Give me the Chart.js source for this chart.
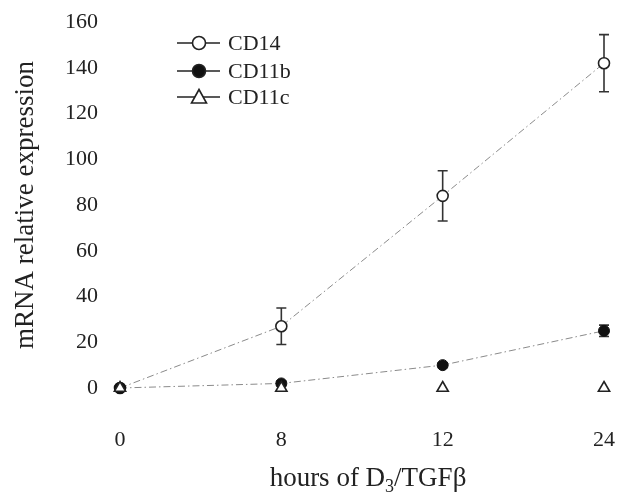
<!DOCTYPE html>
<html>
<head>
<meta charset="utf-8">
<script src="https://cdn.jsdelivr.net/npm/chart.js@4.4.0/dist/chart.umd.min.js"></script>
<style>
  html, body { margin: 0; padding: 0; background: #fff; }
  #wrap { width: 619px; height: 498px; }
</style>
</head>
<body>
<div id="wrap"><canvas id="chart" width="619" height="498"></canvas></div>
<script>
// data
const hours = ['0', '8', '12', '24'];
const cd14 = [0, 27, 84, 142];
const cd14Err = [0.8, 8, 11, 12.5];
const cd11b = [0, 2, 10, 25];
const cd11bErr = [0.5, 1, 1, 2.5];
const cd11c = [0, 0, 0, 0];
const yTicks = [0, 20, 40, 60, 80, 100, 120, 140, 160];

const serif = "'Liberation Serif', 'Times New Roman', serif";
const ink = '#222';

// error bars, drawn under the markers
const errorBars = {
  id: 'errorBars',
  beforeDatasetsDraw(chart) {
    const { ctx, scales: { x, y } } = chart;
    const sets = [[cd14, cd14Err], [cd11b, cd11bErr]];
    ctx.save();
    ctx.strokeStyle = '#333';
    ctx.lineWidth = 1.6;
    sets.forEach(([vals, errs]) => {
      vals.forEach((v, i) => {
        const px = x.getPixelForValue(i);
        const top = y.getPixelForValue(v + errs[i]);
        const bot = y.getPixelForValue(v - errs[i]);
        ctx.beginPath();
        ctx.moveTo(px, top); ctx.lineTo(px, bot);
        ctx.moveTo(px - 5, top); ctx.lineTo(px + 5, top);
        ctx.moveTo(px - 5, bot); ctx.lineTo(px + 5, bot);
        ctx.stroke();
      });
    });
    ctx.restore();
  }
};

// legend with a line through each marker, and x title with subscript
const extras = {
  id: 'extras',
  afterDraw(chart) {
    const { ctx, chartArea } = chart;
    ctx.save();
    const rows = [
      { label: 'CD14', y: 43, fill: '#fff', shape: 'circle' },
      { label: 'CD11b', y: 71, fill: '#111', shape: 'circle' },
      { label: 'CD11c', y: 97, fill: '#fff', shape: 'triangle' }
    ];
    rows.forEach(r => {
      ctx.strokeStyle = ink;
      ctx.lineWidth = 1.6;
      ctx.beginPath();
      ctx.moveTo(177, r.y); ctx.lineTo(220, r.y);
      ctx.stroke();
      ctx.beginPath();
      if (r.shape === 'circle') {
        ctx.arc(199, r.y, 6.5, 0, Math.PI * 2);
      } else {
        ctx.moveTo(199, r.y - 7.5);
        ctx.lineTo(206.5, r.y + 6);
        ctx.lineTo(191.5, r.y + 6);
        ctx.closePath();
      }
      ctx.fillStyle = r.fill;
      ctx.fill();
      ctx.stroke();
      ctx.fillStyle = ink;
      ctx.font = '22px ' + serif;
      ctx.textAlign = 'left';
      ctx.textBaseline = 'middle';
      ctx.fillText(r.label, 228, r.y + 1);
    });

    // x axis title: hours of D3/TGFβ
    const parts = [['hours of D', 27, 0], ['3', 18, 6], ['/TGFβ', 27, 0]];
    let w = 0;
    parts.forEach(p => { ctx.font = p[1] + 'px ' + serif; w += ctx.measureText(p[0]).width; });
    let tx = (chartArea.left + chartArea.right) / 2 + 6 - w / 2;
    const base = 486;
    ctx.textBaseline = 'alphabetic';
    parts.forEach(p => {
      ctx.font = p[1] + 'px ' + serif;
      ctx.fillText(p[0], tx, base + p[2]);
      tx += ctx.measureText(p[0]).width;
    });
    ctx.restore();
  }
};

const dashDot = [7, 3, 1.5, 3];

new Chart(document.getElementById('chart'), {
  type: 'line',
  data: {
    labels: hours,
    datasets: [
      {
        label: 'CD11c', data: cd11c, order: 0, showLine: false, clip: false,
        pointStyle: 'triangle', pointRadius: 6.5, pointBackgroundColor: '#fff',
        pointBorderColor: ink, pointBorderWidth: 1.6, borderColor: ink
      },
      {
        label: 'CD11b', data: cd11b, order: 1, clip: false,
        borderColor: '#8a8a8a', borderWidth: 1, borderDash: dashDot,
        pointStyle: 'circle', pointRadius: 5.5, pointBackgroundColor: '#111',
        pointBorderColor: '#111', pointBorderWidth: 1
      },
      {
        label: 'CD14', data: cd14, order: 2, clip: false,
        borderColor: '#8a8a8a', borderWidth: 1, borderDash: dashDot,
        pointStyle: 'circle', pointRadius: 5.5, pointBackgroundColor: '#fff',
        pointBorderColor: ink, pointBorderWidth: 1.6
      }
    ]
  },
  options: {
    responsive: false,
    animation: false,
    layout: { padding: { left: 10, right: 15, top: 22, bottom: 30 } },
    plugins: { legend: { display: false }, tooltip: { enabled: false } },
    scales: {
      x: {
        type: 'category',
        offset: false,
        grid: { display: false, drawTicks: false },
        border: { display: false },
        ticks: { color: ink, font: { family: serif, size: 22 }, padding: 39 },
        afterFit: s => { s.height = 80; s.paddingLeft = 0; s.paddingRight = 0; }
      },
      y: {
        min: 0, max: 160,
        grid: { display: false, drawTicks: false },
        border: { display: false },
        afterBuildTicks: s => { s.ticks = yTicks.map(v => ({ value: v })); },
        ticks: { color: ink, font: { family: serif, size: 22 }, padding: 22 },
        title: {
          display: true, text: 'mRNA relative expression', color: ink,
          font: { family: serif, size: 27 }, padding: 0
        },
        afterFit: s => { s.width = 110; s.paddingTop = 0; s.paddingBottom = 0; }
      }
    }
  },
  plugins: [errorBars, extras]
});
</script>
</body>
</html>
